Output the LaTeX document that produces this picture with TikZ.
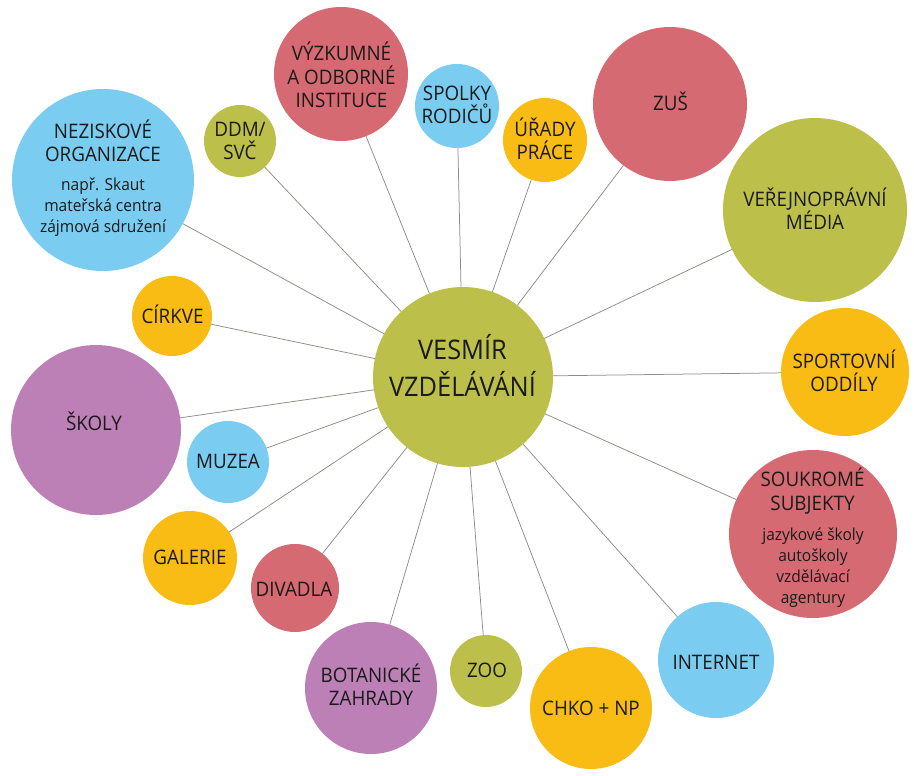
\documentclass[tikz,border=0pt]{standalone}
\usepackage{fontspec}
\setmainfont{Open Sans}[FakeStretch=0.94]
\definecolor{cblue}{RGB}{122,205,240}
\definecolor{colive}{RGB}{188,192,74}
\definecolor{cred}{RGB}{213,106,114}
\definecolor{cyellow}{RGB}{249,188,21}
\definecolor{cpurple}{RGB}{188,128,182}
\definecolor{cline}{RGB}{140,140,132}
\definecolor{ctext}{RGB}{26,26,26}
\begin{document}
\begin{tikzpicture}[x=1pt,y=-1pt,
  bub/.style={circle,inner sep=0pt,outer sep=0pt,draw=none,minimum size=#1},
  conn/.style={draw=cline,line width=0.75pt},
  lbl/.style={align=center,text=ctext,inner sep=0pt,font=\fontsize{20}{23.3}\selectfont},
  subtxt/.style={align=center,text=ctext,inner sep=0pt,font=\fontsize{16.5}{21}\selectfont},
  ttl/.style={align=center,text=ctext,inner sep=0pt,font=\fontsize{27}{37}\selectfont}]
\useasboundingbox (0,0) rectangle (914,776);
% circles
\node[bub=180pt,fill=colive]  (c)   at (463,377) {};
\node[bub=182pt,fill=cblue]   (nez) at (103,180) {};
\node[bub=72pt, fill=colive]  (ddm) at (240,141) {};
\node[bub=134pt,fill=cred]    (vyz) at (341,74)  {};
\node[bub=84pt, fill=cblue]   (spo) at (457,106) {};
\node[bub=84pt, fill=cyellow] (ura) at (545,140) {};
\node[bub=154pt,fill=cred]    (zus) at (670,104) {};
\node[bub=184pt,fill=colive]  (ver) at (815,210) {};
\node[bub=128pt,fill=cyellow] (spt) at (845,372) {};
\node[bub=168pt,fill=cred]    (sou) at (813,534) {};
\node[bub=116pt,fill=cblue]   (int) at (716,660) {};
\node[bub=122pt,fill=cyellow] (chk) at (591,708) {};
\node[bub=72pt, fill=colive]  (zoo) at (486,671) {};
\node[bub=132pt,fill=cpurple] (bot) at (371,688) {};
\node[bub=88pt, fill=cred]    (div) at (295,588) {};
\node[bub=94pt, fill=cyellow] (gal) at (190,558) {};
\node[bub=82pt, fill=cblue]   (muz) at (228,462) {};
\node[bub=170pt,fill=cpurple] (sko) at (96,430)  {};
\node[bub=80pt, fill=cyellow] (cir) at (172,316) {};
% connectors
\foreach \o in {nez,ddm,vyz,spo,ura,zus,ver,spt,sou,int,chk,zoo,bot,div,gal,muz,sko,cir}
  \draw[conn] (c) -- (\o);
% texts
\node[ttl]    (cT)   at (462.5,365) {VESMÍR\\VZDĚLÁVÁNÍ};
\node[lbl]    (nezT) at (103,141)   {NEZISKOVÉ\\ORGANIZACE};
\node[subtxt] (nezS) at (103,207)   {např. Skaut\\mateřská centra\\zájmová sdružení};
\node[lbl]    (ddmT) at (240,141)   {DDM/\\SVČ};
\node[lbl]    (vyzT) at (341.5,75)  {VÝZKUMNÉ\\A ODBORNÉ\\INSTITUCE};
\node[lbl]    (spoT) at (457,105)   {SPOLKY\\RODIČŮ};
\node[lbl]    (uraT) at (545,139)   {ÚŘADY\\PRÁCE};
\node[lbl]    (zusT) at (670.5,101) {ZUŠ};
\node[lbl]    (verT) at (815,209)   {VEŘEJNOPRÁVNÍ\\MÉDIA};
\node[lbl]    (sptT) at (844,370.5) {SPORTOVNÍ\\ODDÍLY};
\node[lbl]    (souT) at (812.5,491) {SOUKROMÉ\\SUBJEKTY};
\node[subtxt] (souS) at (813,568)   {jazykové školy\\autoškoly\\vzdělávací\\agentury};
\node[lbl]    (intT) at (716,662)   {INTERNET};
\node[lbl]    (chkT) at (591,708)   {CHKO + NP};
\node[lbl]    (zooT) at (487,670)   {ZOO};
\node[lbl]    (botT) at (371,685)   {BOTANICKÉ\\ZAHRADY};
\node[lbl]    (divT) at (294,589)   {DIVADLA};
\node[lbl]    (galT) at (190,557)   {GALERIE};
\node[lbl]    (muzT) at (228,461.5) {MUZEA};
\node[lbl]    (skoT) at (94,421)    {ŠKOLY};
\node[lbl]    (cirT) at (172.5,314) {CÍRKVE};
\end{tikzpicture}
\end{document}
